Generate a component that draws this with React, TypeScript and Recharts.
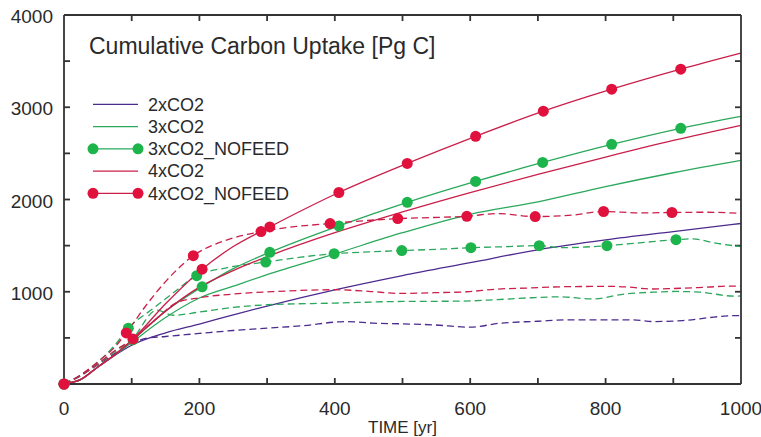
import React from 'react';
import { ComposedChart, Line, XAxis, YAxis, Legend, ReferenceLine } from 'recharts';

const PURPLE = '#4d2a8e';
const GREEN = '#2aa85c';
const GREEN_MARK = '#1db44c';
const RED = '#c91f4a';
const RED_MARK = '#e0123d';
const AXIS = '#333333';
const TEXT = '#2a2a2a';
const FONT = "'Liberation Sans', Arial, Helvetica, sans-serif";

const xDomain = [0, 1000];
const yDomain = [0, 4000];
const xTicks = [0, 100, 200, 300, 400, 500, 600, 700, 800, 900, 1000];
const xLabelTicks = [0, 200, 400, 600, 800, 1000];
const yTicks = [0, 500, 1000, 1500, 2000, 2500, 3000, 3500, 4000];
const yLabelTicks = [1000, 2000, 3000, 4000];

const titleText = 'Cumulative Carbon Uptake [Pg C]';
const xAxisTitle = 'TIME [yr]';

// solid runs
const smoothYears = [0, 25, 50, 75, 100, 150, 200, 250, 300, 400, 500, 600, 700, 800, 900, 1000];
const co2x2Total = [0, 50, 185, 310, 420, 555, 650, 750, 845, 1020, 1175, 1315, 1455, 1562, 1652, 1740];
const co2x3Total = [0, 50, 185, 315, 450, 720, 932, 1060, 1185, 1410, 1640, 1840, 1975, 2140, 2290, 2424];
const co2x4Total = [0, 50, 185, 315, 470, 790, 1050, 1230, 1380, 1640, 1865, 2075, 2272, 2460, 2640, 2804];

const nofeed3TotalYears = [0, 25, 50, 75, 102, 150, 204, 250, 304, 406, 507, 608, 707, 809, 911, 1000];
const nofeed3Total = [0, 50, 185, 315, 480, 790, 1054, 1250, 1428, 1714, 1969, 2196, 2402, 2598, 2772, 2902];
const nofeed3TotalMarkers = [0, 102, 204, 304, 406, 507, 608, 707, 809, 911];

const nofeed4TotalYears = [0, 25, 50, 75, 102, 150, 204, 250, 304, 406, 507, 608, 708, 809, 911, 1000];
const nofeed4Total = [0, 50, 185, 320, 489, 870, 1245, 1490, 1703, 2076, 2391, 2685, 2957, 3196, 3413, 3587];
const nofeed4TotalMarkers = [0, 102, 204, 304, 406, 507, 608, 708, 809, 911];

// dashed runs
const co2x2PartYears = [0, 25, 50, 75, 100, 125, 150, 200, 250, 300, 350, 418, 457, 500, 546, 600, 644, 700, 743, 800, 841, 870, 914, 960, 980, 1000];
const co2x2Part = [0, 90, 210, 330, 440, 500, 515, 548, 580, 605, 630, 677, 659, 652, 641, 616, 659, 680, 696, 696, 696, 677, 688, 725, 739, 742];

const co2x3PartYears = [0, 25, 50, 75, 100, 137, 161, 200, 250, 300, 400, 500, 585, 640, 690, 733, 780, 831, 870, 905, 940, 990, 1000];
const co2x3Part = [0, 95, 215, 350, 480, 800, 745, 780, 830, 859, 877, 895, 898, 915, 935, 945, 922, 978, 995, 1003, 995, 952, 955];

const co2x4PartYears = [0, 25, 50, 75, 100, 137, 166, 200, 250, 314, 398, 450, 496, 550, 595, 640, 683, 743, 806, 835, 865, 900, 950, 984, 1000];
const co2x4Part = [0, 95, 220, 360, 480, 710, 880, 935, 975, 1003, 1022, 1005, 982, 990, 1000, 1029, 1040, 1055, 1058, 1050, 1030, 1035, 1050, 1062, 1060];

const nofeed3PartYears = [0, 25, 50, 75, 95, 130, 160, 196, 240, 298, 350, 399, 450, 499, 550, 601, 650, 702, 733, 770, 802, 850, 904, 929, 960, 1000];
const nofeed3Part = [0, 100, 240, 420, 605, 810, 980, 1174, 1260, 1322, 1375, 1413, 1432, 1446, 1460, 1478, 1488, 1500, 1478, 1485, 1500, 1530, 1565, 1573, 1530, 1489];
const nofeed3PartMarkers = [0, 95, 196, 298, 399, 499, 601, 702, 802, 904];

const nofeed4PartYears = [0, 25, 50, 75, 92, 120, 150, 191, 240, 291, 340, 393, 443, 493, 545, 595, 640, 696, 750, 797, 850, 898, 950, 1000];
const nofeed4Part = [0, 100, 240, 400, 554, 840, 1110, 1391, 1560, 1652, 1705, 1739, 1770, 1793, 1805, 1818, 1848, 1815, 1830, 1870, 1855, 1859, 1862, 1850];
const nofeed4PartMarkers = [0, 92, 191, 291, 393, 493, 595, 696, 797, 898];

const legendNames = ['2xCO2', '3xCO2', '3xCO2_NOFEED', '4xCO2', '4xCO2_NOFEED'];

const toPts = (years: number[], vals: number[]) => years.map((y, i) => ({ year: y, v: vals[i] }));

const markerDot = (years: number[], color: string) => (p: any) => {
  const key = `d-${p.index}`;
  if (!p.payload || !years.includes(p.payload.year)) return <g key={key} />;
  return <circle key={key} cx={p.cx} cy={p.cy} r={5.5} fill={color} stroke="none" />;
};

const legendMarker: Record<string, string> = {
  '3xCO2_NOFEED': GREEN_MARK,
  '4xCO2_NOFEED': RED_MARK,
};

const renderLegend = (props: any) => {
  const all = (props.payload || []) as any[];
  const items = legendNames
    .map((n) => all.find((it) => it.value === n))
    .filter((it) => !!it);
  return (
    <svg width={761} height={220} style={{ display: 'block' }}>
      <text x={89} y={54} fontSize={23} fill={TEXT} fontFamily={FONT}>{titleText}</text>
      {items.map((it: any, i: number) => {
        const cy = 104.3 + i * 22.25;
        const mark = legendMarker[it.value];
        return (
          <g key={String(it.value)}>
            <line x1={93} x2={138} y1={cy} y2={cy} stroke={it.color} strokeWidth={1.2} />
            {mark ? <circle cx={93} cy={cy} r={5.5} fill={mark} /> : null}
            {mark ? <circle cx={138} cy={cy} r={5.5} fill={mark} /> : null}
            <text x={148} y={cy + 6.4} fontSize={18} fill={TEXT} fontFamily={FONT}>{it.value}</text>
          </g>
        );
      })}
    </svg>
  );
};

// plot size in pixels, used only to express the tick length in data units
const PLOT_W = 677;
const PLOT_H = 369;
const TICK_PX = 6;
const TICK_W = 1.8;
const tickLenX = ((xDomain[1] - xDomain[0]) * TICK_PX) / PLOT_W;
const tickLenY = ((yDomain[1] - yDomain[0]) * TICK_PX) / PLOT_H;

const X_MARGIN = 16;
const Y_MARGIN = 11;

// bottom axis: inward tick + label
const XTick = (props: any) => {
  const { x, y, payload } = props;
  const inner = payload.value > xDomain[0] && payload.value < xDomain[1];
  return (
    <g>
      {inner ? <rect x={x - TICK_W / 2} y={y - X_MARGIN - TICK_PX} width={TICK_W} height={TICK_PX} fill={AXIS} /> : null}
      {xLabelTicks.includes(payload.value) ? (
        <text x={x} y={y + 14.5} textAnchor="middle" fontSize={19} fill={TEXT} fontFamily={FONT}>
          {payload.value}
        </text>
      ) : null}
    </g>
  );
};

// left axis: inward tick + label
const YTick = (props: any) => {
  const { x, y, payload } = props;
  const inner = payload.value > yDomain[0] && payload.value < yDomain[1];
  return (
    <g>
      {inner ? <rect x={x + Y_MARGIN} y={y - TICK_W / 2} width={TICK_PX} height={TICK_W} fill={AXIS} /> : null}
      {yLabelTicks.includes(payload.value) ? (
        <text x={x} y={y + 8} textAnchor="end" fontSize={19} fill={TEXT} fontFamily={FONT}>
          {payload.value}
        </text>
      ) : null}
    </g>
  );
};

const lineCommon = {
  type: 'monotone' as const,
  dataKey: 'v',
  xAxisId: 'b',
  yAxisId: 'l',
  strokeWidth: 1.3,
  activeDot: false as const,
  isAnimationActive: false,
};

const DASH = '7 4';
const axisLineStyle = { stroke: AXIS, strokeWidth: 1.8 };

export default function App() {
  const innerX = xTicks.filter((t) => t > xDomain[0] && t < xDomain[1]);
  const innerY = yTicks.filter((t) => t > yDomain[0] && t < yDomain[1]);
  return (
    <div style={{ position: 'absolute', left: 0, top: 0, width: 761, height: 437, background: '#fff' }}>
      <ComposedChart width={761} height={437} margin={{ top: 14, right: 19, bottom: 0, left: 0 }}>
        <XAxis
          xAxisId="b"
          type="number"
          dataKey="year"
          domain={xDomain}
          ticks={xTicks}
          interval={0}
          height={53}
          tickSize={0}
          tickMargin={X_MARGIN}
          tick={XTick}
          axisLine={axisLineStyle}
          tickLine={false}
          label={{ value: xAxisTitle, position: 'insideBottom', offset: 4, fontSize: 17, fill: TEXT, fontFamily: FONT }}
        />
        <YAxis
          yAxisId="l"
          type="number"
          domain={yDomain}
          ticks={yTicks}
          interval={0}
          width={64}
          tickSize={0}
          tickMargin={Y_MARGIN}
          tick={YTick}
          axisLine={axisLineStyle}
          tickLine={false}
        />
        <XAxis xAxisId="t" orientation="top" type="number" dataKey="year" domain={xDomain} ticks={xTicks} height={1} tick={false} axisLine={axisLineStyle} tickLine={false} />
        <YAxis yAxisId="r" orientation="right" type="number" domain={yDomain} ticks={yTicks} width={1} tick={false} axisLine={axisLineStyle} tickLine={false} />
        <Legend
          layout="vertical"
          align="center"
          verticalAlign="middle"
          wrapperStyle={{ left: 0, top: 0, width: 761, height: 220, pointerEvents: 'none' }}
          content={renderLegend}
        />

        {innerX.map((t) => (
          <ReferenceLine key={`xt${t}`} xAxisId="b" yAxisId="l" segment={[{ x: t, y: yDomain[1] }, { x: t, y: yDomain[1] - tickLenY }]} stroke={AXIS} strokeWidth={TICK_W} ifOverflow="visible" />
        ))}
        {innerY.map((t) => (
          <ReferenceLine key={`yr${t}`} xAxisId="b" yAxisId="l" segment={[{ x: xDomain[1], y: t }, { x: xDomain[1] - tickLenX, y: t }]} stroke={AXIS} strokeWidth={TICK_W} ifOverflow="visible" />
        ))}

        <Line {...lineCommon} data={toPts(co2x2PartYears, co2x2Part)} stroke={PURPLE} strokeDasharray={DASH} dot={false} legendType="none" name="2xCO2 part" />
        <Line {...lineCommon} data={toPts(smoothYears, co2x2Total)} stroke={PURPLE} dot={false} name="2xCO2" />
        <Line {...lineCommon} data={toPts(co2x3PartYears, co2x3Part)} stroke={GREEN} strokeDasharray={DASH} dot={false} legendType="none" name="3xCO2 part" />
        <Line {...lineCommon} data={toPts(smoothYears, co2x3Total)} stroke={GREEN} dot={false} name="3xCO2" />
        <Line {...lineCommon} data={toPts(nofeed3PartYears, nofeed3Part)} stroke={GREEN} strokeDasharray={DASH} dot={markerDot(nofeed3PartMarkers, GREEN_MARK)} legendType="none" name="3xCO2_NOFEED part" />
        <Line {...lineCommon} data={toPts(nofeed3TotalYears, nofeed3Total)} stroke={GREEN} dot={markerDot(nofeed3TotalMarkers, GREEN_MARK)} name="3xCO2_NOFEED" />
        <Line {...lineCommon} data={toPts(co2x4PartYears, co2x4Part)} stroke={RED} strokeDasharray={DASH} dot={false} legendType="none" name="4xCO2 part" />
        <Line {...lineCommon} data={toPts(smoothYears, co2x4Total)} stroke={RED} dot={false} name="4xCO2" />
        <Line {...lineCommon} data={toPts(nofeed4PartYears, nofeed4Part)} stroke={RED} strokeDasharray={DASH} dot={markerDot(nofeed4PartMarkers, RED_MARK)} legendType="none" name="4xCO2_NOFEED part" />
        <Line {...lineCommon} data={toPts(nofeed4TotalYears, nofeed4Total)} stroke={RED} dot={markerDot(nofeed4TotalMarkers, RED_MARK)} name="4xCO2_NOFEED" />
      </ComposedChart>
    </div>
  );
}
